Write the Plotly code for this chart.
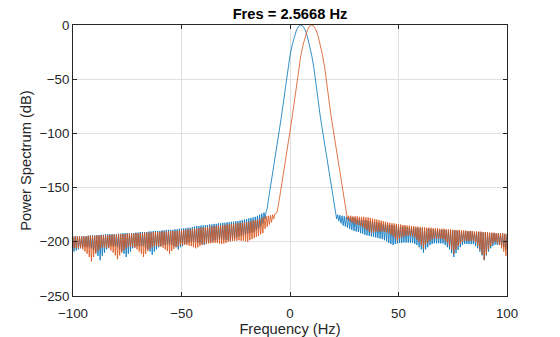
import plotly.graph_objects as go

# ---------------- data ----------------
# Each side-lobe floor is stored as the ripple tops (at whole Hz, starting at *_start)
# and the ripple bottoms (half a Hz after each top).

# Blue trace (tone near 5 Hz)
blue_left_start = -100
blue_left_top = [
    -195, -195, -195, -195, -195, -195, -195, -194.5, -194, -194,
    -194, -194, -194, -193.5, -193.5, -193, -193, -193, -193, -193,
    -193, -192.5, -192.5, -192, -192, -192, -192, -192, -192, -191.5,
    -191.5, -191, -191, -191, -191, -190.5, -190.5, -190, -190, -190,
    -190, -189.5, -189.5, -189, -189, -189, -189, -188.5, -188.5, -188,
    -188, -187.5, -187.5, -187, -187, -186.5, -186, -185.5, -185.5, -185,
    -185, -184.5, -184.5, -184, -184, -183.5, -183.5, -183, -183, -182.5,
    -182.5, -182, -182, -181.5, -181.5, -181, -181, -180.5, -180, -179.5,
    -179, -178.5, -178, -177.5, -177, -176, -175, -174, -173, -172,
]
blue_left_bottom = [
    -209, -208, -207, -206, -205, -205, -205, -205, -206, -208,
    -210, -213, -217, -213, -210, -207, -205, -204, -204, -204,
    -205, -207, -209, -211, -214, -211, -209, -206, -205, -204,
    -204, -204, -204, -206, -207, -209, -212, -209, -207, -205,
    -204, -203, -203, -202.5, -203, -203, -204, -205, -207, -205,
    -204, -202, -201, -200.5, -200, -200.3, -200, -201, -201.5, -202,
    -203, -202, -201, -200, -199, -198.6, -198.5, -198, -198, -198,
    -198, -198.5, -199, -198, -197, -196, -195, -194.5, -194, -193.3,
    -192.7, -192, -191.5, -191, -189.5, -188, -186, -183, -179,
]
blue_lobe_f = [-10.6, -10, -9, -8, -7, -6, -5, -4, -3, -2, -1, 0, 1, 2, 3, 4, 5,
               6, 7, 8, 9, 10, 11, 12, 13, 14, 15, 16, 17, 18, 19, 20, 20.6]
blue_lobe_db = [-170, -162, -150, -137, -124, -111, -98, -85, -70, -53, -39.5, -28,
                -18.5, -10.5, -4.6, -1.2, 0, -1.2, -4.6, -10.5, -18.5, -28, -39.5,
                -53, -70, -85, -98, -111, -124, -137, -150, -162, -170]
blue_right_start = 21
blue_right_top = [
    -174.5, -175, -175.5, -176, -176.5, -177, -177, -177.5, -177.5, -178,
    -178.5, -179, -179.5, -180, -180, -180.5, -181, -181, -181.5, -182,
    -182.5, -183, -183.5, -184, -184, -184.5, -184.5, -185, -185, -185.5,
    -185.5, -186, -186, -186.5, -186.5, -187, -187, -187, -187.5, -187.5,
    -187.5, -188, -188, -188, -188.5, -188.5, -188.5, -188.5, -189, -189,
    -189, -189, -189.5, -189.5, -189.5, -189.5, -190, -190, -190, -190,
    -190.5, -190.5, -190.5, -190.5, -191, -191, -191, -191, -191.5, -191.5,
    -192, -192, -192, -192, -192.5, -192.5, -192.5, -192.5, -193, -193,
]
blue_right_bottom = [
    -179, -181, -183, -185, -186, -187, -188, -189, -190, -190.5,
    -191, -192, -192.5, -193.5, -194, -194.5, -195, -195.5, -196, -196.5,
    -197, -197.5, -198.5, -199.5, -201, -202, -203, -202, -201.5, -201,
    -201, -200.6, -200.7, -200.7, -200.8, -200.8, -202, -203, -205, -207,
    -210, -207, -205, -203, -202, -201.3, -201.4, -201.4, -201.5, -201.5,
    -203, -205, -207, -210.5, -214, -210.5, -207.5, -205, -203, -202,
    -202.1, -202.1, -202.2, -202.2, -204, -206, -209, -212.5, -217, -212.5,
    -209, -206, -204, -202.7, -202.8, -202.8, -204, -205, -207,
]

# Orange trace (tone near 10 Hz)
orange_left_start = -100
orange_left_top = [
    -195, -195, -195, -195, -195, -195, -195, -194.5, -194.5, -194.5,
    -194.5, -194, -194, -194, -194, -194, -194, -193.5, -193.5, -193.5,
    -193.5, -193, -193, -193, -193, -192.5, -192.5, -192.5, -192.5, -192,
    -192, -192, -192, -191.5, -191.5, -191.5, -191.5, -191, -191, -191,
    -191, -190.5, -190.5, -190.5, -190.5, -190, -190, -190, -190, -189.5,
    -189.5, -189, -189, -188.5, -188.5, -188, -188, -187.5, -187.5, -187,
    -187, -186.5, -186.5, -186, -186, -185.5, -185.5, -185, -185, -184.5,
    -184.5, -184, -184, -183.5, -183.5, -183, -183, -182.5, -182.5, -182,
    -182, -181.5, -181, -180.5, -180, -179.5, -179, -178, -177, -176.5,
    -176, -175.5, -175, -174.5,
]
orange_left_bottom = [
    -206, -205.9, -205.9, -205.8, -207, -209, -211, -214, -218, -214,
    -211, -208.5, -206.5, -205.3, -205.3, -205.2, -206, -208, -210, -212.5,
    -216, -212.5, -210, -207.5, -206, -204.7, -204.7, -204.6, -205.5, -207,
    -209, -211, -214, -211, -208.5, -206.5, -205, -204.1, -204.1, -204,
    -204.5, -205.5, -207, -208.5, -211, -208.5, -206.5, -205, -204, -202.9,
    -202.8, -202.7, -203, -203.5, -204, -205, -206, -205, -204, -203,
    -202, -201.7, -201.5, -201.3, -201, -201, -201, -201.5, -202, -201.5,
    -201, -200, -199.5, -199.3, -199, -199, -198.5, -199, -199, -199.5,
    -200, -198.5, -197.5, -196.5, -195.5, -194.5, -193, -192, -188, -186,
    -184, -182, -179,
]
orange_lobe_f = [-6, -5, -4, -3, -2, -1, 0, 1, 2, 3, 4, 5, 6, 7, 8, 9, 10,
                 11, 12, 13, 14, 15, 16, 17, 18, 19, 20, 21, 22, 23, 24, 25, 25.6]
orange_lobe_db = [-173, -162, -150, -137, -124, -111, -98, -85, -70, -53, -39.5, -28,
                  -18.5, -10.5, -4.6, -1.2, 0, -1.2, -4.6, -10.5, -18.5, -28, -39.5,
                  -53, -70, -85, -98, -111, -124, -137, -150, -162, -172]
orange_right_start = 26
orange_right_top = [
    -176, -176, -176, -176.5, -176.5, -176.5, -177, -177, -177, -177.5,
    -177.5, -178, -178.5, -179, -179.5, -180, -180.5, -181, -181.5, -182,
    -182.5, -183, -183, -183.5, -184, -184, -184.5, -184.5, -185, -185,
    -185.5, -185.5, -186, -186, -186.5, -186.5, -186.5, -187, -187, -187,
    -187.5, -187.5, -187.5, -188, -188, -188, -188.5, -188.5, -188.5, -189,
    -189, -189, -189, -189.5, -189.5, -189.5, -190, -190, -190, -190.5,
    -190.5, -190.5, -190.5, -191, -191, -191, -191.5, -191.5, -191.5, -192,
    -192, -192, -192, -192.5, -192.5,
]
orange_right_bottom = [
    -179.5, -181, -182, -183, -184, -184.5, -185.5, -186.5, -188, -189,
    -190.5, -192, -191, -191, -190.5, -190.5, -190.6, -191, -191.2, -192,
    -193.5, -195, -197, -199, -197, -196, -195, -194.5, -194.2, -194.5,
    -194.8, -196, -198, -200, -203, -206, -203, -201, -199, -197.5,
    -196.9, -197.1, -197.2, -197.4, -197.5, -199, -201, -204, -207, -211,
    -207, -204, -202, -200, -199, -199.1, -199.1, -199.2, -199.2, -201,
    -203.5, -207, -211.5, -216.5, -211.5, -207, -204, -201.5, -200, -201,
    -203, -206, -209, -213,
]

title_text = "Fres = 2.5668 Hz"
x_label = "Frequency (Hz)"
y_label = "Power Spectrum (dB)"
x_ticks = [-100, -50, 0, 50, 100]
y_ticks = [-250, -200, -150, -100, -50, 0]


def floor_points(start, tops, bottoms):
    f, db = [], []
    for i, top in enumerate(tops):
        f.append(start + i)
        db.append(top)
        if i < len(bottoms):
            f.append(start + i + 0.5)
            db.append(bottoms[i])
    return f, db


def assemble(l_start, l_top, l_bot, lobe_f, lobe_db, r_start, r_top, r_bot):
    f1, d1 = floor_points(l_start, l_top, l_bot)
    f3, d3 = floor_points(r_start, r_top, r_bot)
    return f1 + list(lobe_f) + f3, d1 + list(lobe_db) + d3


bf, bdb = assemble(blue_left_start, blue_left_top, blue_left_bottom,
                   blue_lobe_f, blue_lobe_db,
                   blue_right_start, blue_right_top, blue_right_bottom)
of, odb = assemble(orange_left_start, orange_left_top, orange_left_bottom,
                   orange_lobe_f, orange_lobe_db,
                   orange_right_start, orange_right_top, orange_right_bottom)

FONT = "Liberation Sans, Arial, Helvetica, sans-serif"
AX = "#262626"

fig = go.Figure()
fig.add_trace(go.Scatter(x=bf, y=bdb, mode="lines",
                         line=dict(color="#0072BD", width=0.8), showlegend=False))
fig.add_trace(go.Scatter(x=of, y=odb, mode="lines",
                         line=dict(color="#D95319", width=0.8), showlegend=False))

axis_common = dict(
    showgrid=True, gridcolor="#e0e0e0", gridwidth=1, automargin=False,
    zeroline=False, showline=True, linecolor=AX, linewidth=1,
    mirror="ticks", ticks="inside", ticklen=4, tickcolor=AX,
    tickfont=dict(family=FONT, size=13.3, color=AX),
)

fig.update_layout(
    width=560, height=337,
    margin=dict(l=73, r=53, t=25, b=41),
    paper_bgcolor="white", plot_bgcolor="white",
    font=dict(family=FONT, color=AX),
    title=dict(text="<b>" + title_text + "</b>", x=0.5, xref="paper",
               y=1 - 14 / 337, yref="container", yanchor="middle",
               font=dict(family=FONT, size=14.7, color="#000000")),
    xaxis=dict(range=[-100, 100], tickvals=x_ticks, ticklabelstandoff=5,
               title=dict(text=x_label, font=dict(family=FONT, size=14.7, color=AX),
                          standoff=4),
               **axis_common),
    yaxis=dict(range=[-250, 0], tickvals=y_ticks,
               title=dict(text=y_label, font=dict(family=FONT, size=14.7, color=AX),
                          standoff=4),
               **axis_common),
)

fig.write_html("out.html")
